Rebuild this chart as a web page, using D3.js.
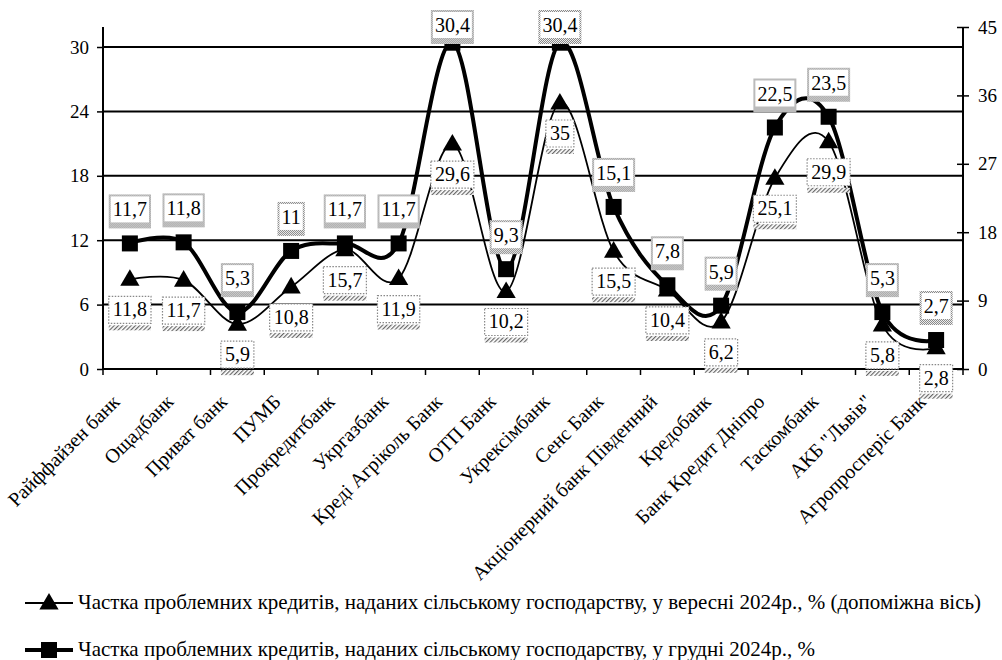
<!DOCTYPE html>
<html>
<head>
<meta charset="utf-8">
<script src="https://cdn.jsdelivr.net/npm/d3@7"></script>
</head>
<body style="margin:0; background:#fff">
<svg id="chart" width="1002" height="660"></svg>
<script>
// data
const banks = [
  "Райффайзен банк", "Ощадбанк", "Приват банк", "ПУМБ", "Прокредитбанк",
  "Укргазбанк", "Креді Агріколь Банк", "ОТП Банк", "Укрексімбанк", "Сенс Банк",
  "Акціонерний банк Південний", "Кредобанк", "Банк Кредит Дніпро", "Таскомбанк",
  "АКБ \"Львів\"", "Агропросперіс Банк"
];
const december = [11.7, 11.8, 5.3, 11, 11.7, 11.7, 30.4, 9.3, 30.4, 15.1, 7.8, 5.9, 22.5, 23.5, 5.3, 2.7];
const september = [11.8, 11.7, 5.9, 10.8, 15.7, 11.9, 29.6, 10.2, 35, 15.5, 10.4, 6.2, 25.1, 29.9, 5.8, 2.8];
const leftTicks = [0, 6, 12, 18, 24, 30];
const rightTicks = [0, 9, 18, 27, 36, 45];
const legendNames = [
  "Частка проблемних кредитів, наданих сільському господарству, у вересні 2024р., % (допоміжна вісь)",
  "Частка проблемних кредитів, наданих сільському господарству, у грудні 2024р., %"
];

const FONT = "Liberation Serif";
const svg = d3.select("#chart");
const left = 103, right = 963, bottom = 369;

const x = d3.scaleBand().domain(banks).range([left, right]);
const yL = d3.scaleLinear().domain([0, 30]).range([bottom, 47]);
const yR = d3.scaleLinear().domain([0, 45]).range([bottom, 27]);
const cx = (d) => x(d) + x.bandwidth() / 2;

// patterns for the label frames
const defs = svg.append("defs");
let checker = defs.append("pattern").attr("id", "checker")
  .attr("width", 2).attr("height", 2).attr("patternUnits", "userSpaceOnUse");
checker.append("rect").attr("width", 2).attr("height", 2).attr("fill", "#fff");
checker.append("rect").attr("width", 1).attr("height", 1).attr("fill", "#777");
checker.append("rect").attr("x", 1).attr("y", 1).attr("width", 1).attr("height", 1).attr("fill", "#777");

let hatch = defs.append("pattern").attr("id", "hatch")
  .attr("width", 3).attr("height", 3).attr("patternUnits", "userSpaceOnUse")
  .attr("patternTransform", "rotate(45)");
hatch.append("rect").attr("width", 3).attr("height", 3).attr("fill", "#fff");
hatch.append("rect").attr("width", 1.2).attr("height", 3).attr("fill", "#666");

// gridlines
svg.append("g")
  .selectAll("line")
  .data(leftTicks.slice(1))
  .enter()
  .append("line")
  .attr("x1", left).attr("x2", right)
  .attr("y1", (d) => yL(d)).attr("y2", (d) => yL(d))
  .attr("stroke", "#000").attr("stroke-width", 2);

// left axis
let axL = svg.append("g").attr("transform", `translate(${left},0)`)
  .call(d3.axisLeft(yL).tickValues(leftTicks).tickSize(6).tickPadding(8));
axL.select(".domain").remove();
axL.append("line").attr("y1", 27).attr("y2", bottom).attr("stroke", "#000").attr("stroke-width", 2);

// right axis
let axR = svg.append("g").attr("transform", `translate(${right},0)`)
  .call(d3.axisRight(yR).tickValues(rightTicks).tickSize(6).tickPadding(9));
axR.select(".domain").remove();
axR.selectAll(".tick line").attr("x1", -6);
axR.append("line").attr("y1", 27).attr("y2", bottom).attr("stroke", "#000").attr("stroke-width", 2);

[axL, axR].forEach((a) => {
  a.selectAll(".tick line").attr("stroke", "#000").attr("stroke-width", 1.5);
  a.selectAll(".tick text").attr("font-size", 19).attr("fill", "#000")
    .style("font-family", FONT);
});

// bottom axis with ticks between categories
svg.append("line").attr("x1", left).attr("x2", right)
  .attr("y1", bottom).attr("y2", bottom).attr("stroke", "#000").attr("stroke-width", 2);
svg.append("g")
  .selectAll("line")
  .data(d3.range(banks.length + 1))
  .enter()
  .append("line")
  .attr("x1", (i) => left + i * x.bandwidth()).attr("x2", (i) => left + i * x.bandwidth())
  .attr("y1", bottom).attr("y2", bottom + 6)
  .attr("stroke", "#000").attr("stroke-width", 1.5);

// category labels
svg.append("g")
  .selectAll("text")
  .data(banks)
  .enter()
  .append("text")
  .attr("transform", (d) => `translate(${cx(d) - 9},403) rotate(-45)`)
  .attr("text-anchor", "end")
  .attr("font-size", 20)
  .style("font-family", FONT)
  .text((d) => d);

// lines
const lineL = d3.line().x((d, i) => cx(banks[i])).y((d) => yL(d)).curve(d3.curveCardinal.tension(0));
const lineR = d3.line().x((d, i) => cx(banks[i])).y((d) => yR(d)).curve(d3.curveCardinal.tension(0));

svg.append("path").attr("d", lineR(september))
  .attr("fill", "none").attr("stroke", "#000").attr("stroke-width", 1.8);
svg.append("path").attr("d", lineL(december))
  .attr("fill", "none").attr("stroke", "#000").attr("stroke-width", 4);

// markers
const tri = d3.symbol().type(d3.symbolTriangle).size(160);
svg.append("g")
  .selectAll("path")
  .data(september)
  .enter()
  .append("path")
  .attr("d", tri)
  .attr("transform", (d, i) => `translate(${cx(banks[i])},${yR(d) + 1})`)
  .attr("fill", "#000");

svg.append("g")
  .selectAll("rect")
  .data(december)
  .enter()
  .append("rect")
  .attr("x", (d, i) => cx(banks[i]) - 8)
  .attr("y", (d) => yL(d) - 8)
  .attr("width", 16).attr("height", 16)
  .attr("fill", "#000");

// data labels
function fmt(v) { return String(v).replace(".", ","); }

// december: above the point, checker frame
let decLab = svg.append("g")
  .selectAll("g")
  .data(december)
  .enter()
  .append("g")
  .attr("transform", (d, i) => `translate(${cx(banks[i])},${Math.max(yL(d) - 32, 27)})`);
decLab.each(function (d) {
  let g = d3.select(this);
  let outer = g.append("rect").attr("fill", "url(#checker)");
  let inner = g.append("rect").attr("fill", "#fff");
  let t = g.append("text").attr("text-anchor", "middle").attr("y", 5)
    .attr("font-size", 20).style("font-family", FONT).text(fmt(d));
  let w = t.node().getComputedTextLength() + 8;
  outer.attr("x", -w / 2).attr("y", -17).attr("width", w).attr("height", 34);
  inner.attr("x", -w / 2 + 2).attr("y", -15).attr("width", w - 4).attr("height", 26);
  t.raise();
});

// september: below the point, dotted frame with hatch strip
let sepLab = svg.append("g")
  .selectAll("g")
  .data(september)
  .enter()
  .append("g")
  .attr("transform", (d, i) => `translate(${cx(banks[i])},${yR(d) + 34})`);
sepLab.each(function (d) {
  let g = d3.select(this);
  let box = g.append("rect").attr("fill", "#fff")
    .attr("stroke", "#888").attr("stroke-width", 1.2).attr("stroke-dasharray", "1.5,1.5");
  let strip = g.append("rect").attr("fill", "url(#hatch)");
  let t = g.append("text").attr("text-anchor", "middle").attr("y", 3)
    .attr("font-size", 20).style("font-family", FONT).text(fmt(d));
  let w = t.node().getComputedTextLength() + 8;
  box.attr("x", -w / 2).attr("y", -17).attr("width", w).attr("height", 27);
  strip.attr("x", -w / 2).attr("y", 12).attr("width", w).attr("height", 5);
});

// legend
const legY = [603, 650];
legendNames.forEach((name, i) => {
  let g = svg.append("g");
  g.append("line").attr("x1", 25).attr("x2", 73).attr("y1", legY[i]).attr("y2", legY[i])
    .attr("stroke", "#000").attr("stroke-width", i == 0 ? 1.8 : 4);
  if (i == 0) {
    g.append("path").attr("d", tri).attr("transform", `translate(49,${legY[i] + 1})`).attr("fill", "#000");
  } else {
    g.append("rect").attr("x", 41).attr("y", legY[i] - 8).attr("width", 16).attr("height", 16).attr("fill", "#000");
  }
  g.append("text").attr("x", 78).attr("y", legY[i] + 6)
    .attr("font-size", 21)
    .style("font-family", FONT)
    .text(name);
});
</script>
</body>
</html>
